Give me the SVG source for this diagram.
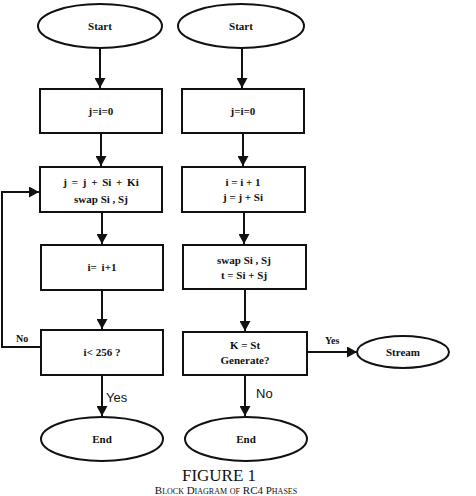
<svg xmlns="http://www.w3.org/2000/svg" width="476" height="496" viewBox="0 0 476 496">
<style>
.s{fill:#fff;stroke:#111;stroke-width:2}
.t{font-family:"Liberation Serif",serif;font-weight:bold;font-size:11px;fill:#111;text-anchor:middle}
.c{fill:none;stroke:#111;stroke-width:2}
.l{font-family:"Liberation Sans",sans-serif;font-size:13px;fill:#111}
.lb{font-family:"Liberation Serif",serif;font-weight:bold;font-size:10px;fill:#111}
</style>
<defs>
<marker id="a" viewBox="0 0 10 10" refX="10" refY="5" markerWidth="5" markerHeight="5.5" orient="auto" markerUnits="strokeWidth" preserveAspectRatio="none">
<path d="M0,0L10,5L0,10z" fill="#111"/>
</marker>
</defs>
<rect width="476" height="496" fill="#fff"/>
<g id="connectors">
<path class="c" d="M100,48V88" marker-end="url(#a)"/>
<path class="c" d="M101,133V166" marker-end="url(#a)"/>
<path class="c" d="M102,212V244" marker-end="url(#a)"/>
<path class="c" d="M102,290V329" marker-end="url(#a)"/>
<path class="c" d="M102,375V416" marker-end="url(#a)"/>
<path class="c" d="M41,347H2V192H39" marker-end="url(#a)"/>
<path class="c" d="M242,48V88" marker-end="url(#a)"/>
<path class="c" d="M243,133V166" marker-end="url(#a)"/>
<path class="c" d="M244,212V244" marker-end="url(#a)"/>
<path class="c" d="M245,289V331" marker-end="url(#a)"/>
<path class="c" d="M245,375V416" marker-end="url(#a)"/>
<path class="c" d="M307,352H357" marker-end="url(#a)"/>
<text class="lb" x="16" y="342">No</text>
<text class="l" x="106" y="402">Yes</text>
<text class="lb" x="325" y="344">Yes</text>
<text class="l" x="256" y="398">No</text>
</g>
<g id="start1"><ellipse class="s" cx="100" cy="26" rx="62" ry="22"/><text class="t" x="100" y="30">Start</text></g>
<g id="init1"><rect class="s" x="40" y="89" width="122" height="44"/><text class="t" x="101" y="115">j=i=0</text></g>
<g id="step1"><rect class="s" x="40" y="167" width="122" height="45"/><text class="t" x="101" y="186" word-spacing="2">j = j + Si + Ki</text><text class="t" x="101" y="203">swap Si , Sj</text></g>
<g id="inc1"><rect class="s" x="41" y="245" width="122" height="45"/><text class="t" x="102" y="271" word-spacing="2">i= i+1</text></g>
<g id="cond1"><rect class="s" x="41" y="330" width="122" height="45"/><text class="t" x="102" y="356">i&lt; 256 ?</text></g>
<g id="end1"><ellipse class="s" cx="102" cy="439" rx="61" ry="22"/><text class="t" x="102" y="443">End</text></g>
<g id="start2"><ellipse class="s" cx="241" cy="26" rx="63" ry="22"/><text class="t" x="241" y="30">Start</text></g>
<g id="init2"><rect class="s" x="182" y="89" width="122" height="44"/><text class="t" x="243" y="115">j=i=0</text></g>
<g id="step2"><rect class="s" x="182" y="167" width="123" height="45"/><text class="t" x="243" y="186">i = i + 1</text><text class="t" x="243" y="201">j = j + Si</text></g>
<g id="swap2"><rect class="s" x="183" y="245" width="123" height="44"/><text class="t" x="244" y="264">swap Si , Sj</text><text class="t" x="244" y="279">t = Si + Sj</text></g>
<g id="cond2"><rect class="s" x="183" y="332" width="124" height="43"/><text class="t" x="245" y="349">K = St</text><text class="t" x="245" y="364">Generate?</text></g>
<g id="end2"><ellipse class="s" cx="246" cy="439" rx="61" ry="22"/><text class="t" x="246" y="443">End</text></g>
<g id="stream"><ellipse class="s" cx="403" cy="352" rx="46" ry="16"/><text class="t" x="403" y="356">Stream</text></g>
<g id="caption">
<text x="219" y="481" font-family="Liberation Serif,serif" font-size="17" text-anchor="middle" fill="#111">FIGURE 1</text>
<text x="226" y="494" font-family="Liberation Serif,serif" font-size="11" font-variant="small-caps" text-anchor="middle" fill="#111">Block Diagram of RC4 Phases</text>
</g>
</svg>
